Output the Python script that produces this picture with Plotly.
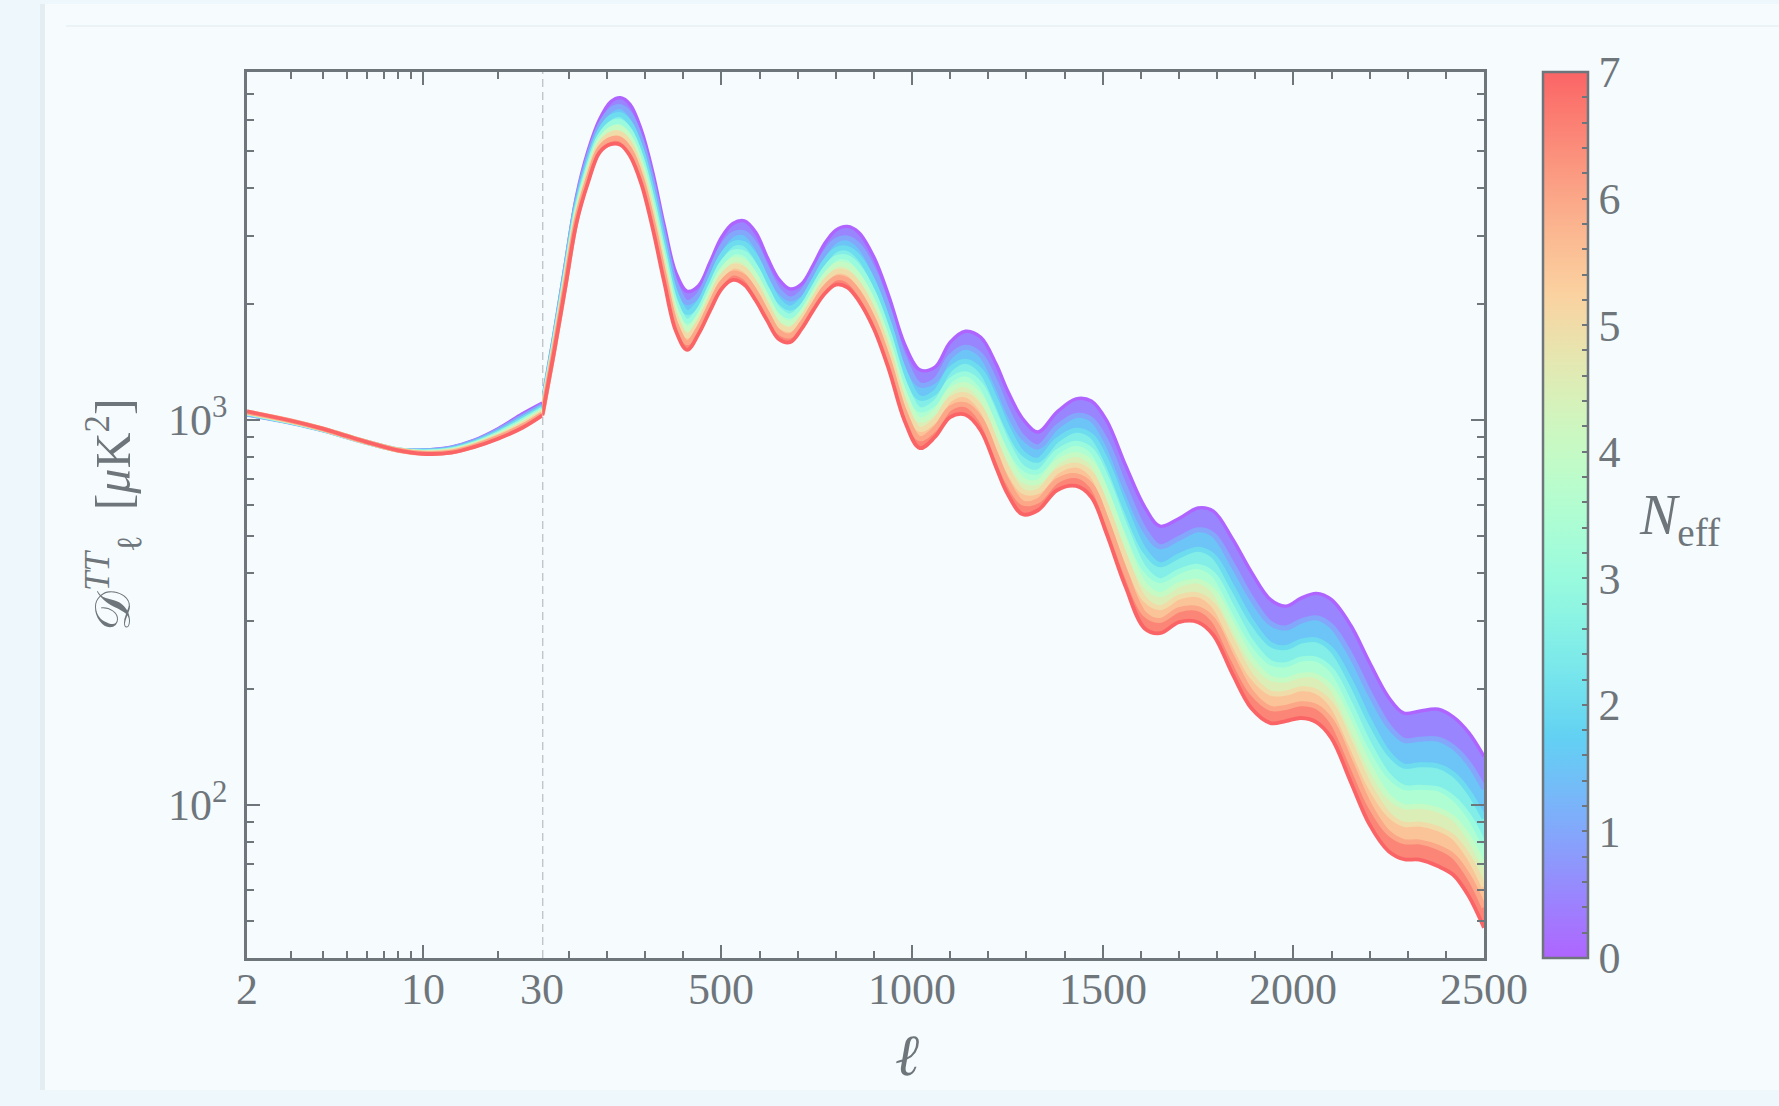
import math
import plotly.graph_objects as go

# ---------------- data ----------------
neff_values = [0, 1, 2, 3, 4, 5, 6, 7]

# low-ell part (log x-axis, ell = 2..30)
ell_low = [2, 3, 4, 5, 6, 8, 10, 13, 16, 20, 25, 30]
dl_n0 = [1030, 982, 940, 902, 873, 836, 834, 849, 884, 948, 1036, 1105]
dl_n1 = [1034, 984, 942, 903, 873, 835, 831, 844, 877, 938, 1020, 1090]
dl_n2 = [1038, 986, 943, 904, 874, 835, 828, 839, 871, 928, 1006, 1077]
dl_n3 = [1041, 988, 944, 905, 874, 834, 825, 835, 866, 920, 994, 1065]
dl_n4 = [1043, 990, 945, 905, 874, 834, 822, 831, 862, 913, 983, 1054]
dl_n5 = [1046, 991, 946, 906, 875, 834, 820, 828, 857, 906, 973, 1045]
dl_n6 = [1048, 993, 947, 906, 875, 833, 818, 824, 853, 900, 963, 1035]
dl_n7 = [1051, 994, 948, 907, 875, 833, 816, 821, 849, 893, 953, 1026]

# high-ell part (linear x-axis, ell = 30..2500)
ell_high = [30, 60, 90, 120, 150, 180, 210, 235, 260, 290,
            320, 350, 380, 410, 440, 470, 500, 530, 560, 590,
            620, 650, 680, 710, 740, 770, 800, 830, 860, 900,
            940, 980, 1020, 1060, 1100, 1140, 1180, 1220, 1250, 1290,
            1330, 1380, 1430, 1470, 1510, 1560, 1610, 1650, 1700, 1750,
            1790, 1840, 1890, 1940, 1980, 2020, 2060, 2100, 2150, 2200,
            2250, 2290, 2330, 2380, 2420, 2460, 2500]
dh_n0 = [1105, 1641, 2513, 3815, 4992, 6018, 6700, 6862, 6595, 5647,
         4385, 3190, 2415, 2155, 2229, 2563, 2975, 3234, 3286, 3065,
         2641, 2320, 2186, 2252, 2513, 2860, 3108, 3177, 3065, 2641,
         2080, 1574, 1348, 1369, 1590, 1697, 1637, 1397, 1191, 1006,
         929, 1047, 1133, 1118, 996, 761, 594, 529, 554, 590,
         579, 491, 402, 341, 328, 344, 354, 341, 293, 234,
         190, 173, 175, 177, 169, 154, 133.5]
dh_n1 = [1090, 1610, 2450, 3701, 4816, 5797, 6384, 6504, 6220, 5311,
         4112, 2991, 2260, 2016, 2110, 2426, 2806, 3033, 3056, 2837,
         2458, 2167, 2058, 2140, 2388, 2702, 2921, 2965, 2837, 2435,
         1914, 1443, 1233, 1265, 1460, 1543, 1473, 1243, 1059, 902,
         850, 958, 1026, 1003, 876, 663, 517, 468, 492, 518,
         503, 421, 344, 296, 288, 300, 306, 291, 245, 195,
         160, 147, 148, 148, 141, 128, 110]
dh_n2 = [1077, 1582, 2395, 3603, 4663, 5606, 6114, 6199, 5902, 5028,
         3883, 2824, 2130, 1900, 2009, 2310, 2663, 2864, 2864, 2647,
         2305, 2039, 1949, 2044, 2281, 2568, 2764, 2787, 2647, 2264,
         1777, 1335, 1139, 1178, 1353, 1418, 1340, 1119, 954, 819,
         785, 885, 939, 909, 780, 586, 457, 420, 443, 461,
         443, 367, 300, 261, 256, 266, 268, 253, 209, 165,
         136, 126, 127, 126, 120, 108, 92.3]
dh_n3 = [1065, 1558, 2348, 3518, 4533, 5443, 5885, 5943, 5636, 4790,
         3690, 2684, 2021, 1803, 1925, 2212, 2542, 2722, 2705, 2490,
         2178, 1932, 1859, 1963, 2191, 2456, 2632, 2639, 2490, 2123,
         1664, 1246, 1062, 1107, 1265, 1316, 1232, 1020, 870, 752,
         732, 825, 869, 834, 705, 525, 410, 382, 404, 416,
         397, 325, 265, 234, 231, 239, 239, 224, 182, 143,
         119, 111, 111, 110, 104, 93.5, 79.2]
dh_n4 = [1054, 1538, 2307, 3446, 4422, 5306, 5693, 5728, 5414, 4594,
         3532, 2569, 1932, 1723, 1854, 2130, 2442, 2606, 2574, 2361,
         2073, 1844, 1783, 1896, 2115, 2362, 2522, 2517, 2361, 2008,
         1571, 1174, 999, 1048, 1194, 1233, 1146, 941, 803, 698,
         689, 776, 812, 774, 646, 478, 373, 351, 373, 381,
         360, 293, 239, 213, 211, 217, 216, 201, 161, 126,
         105, 98.9, 99.1, 97.0, 92.3, 82.3, 69.3]
dh_n5 = [1045, 1519, 2271, 3380, 4323, 5182, 5522, 5538, 5217, 4419,
         3391, 2467, 1853, 1652, 1791, 2058, 2354, 2502, 2458, 2249,
         1981, 1767, 1716, 1836, 2048, 2279, 2425, 2409, 2249, 1907,
         1491, 1112, 944, 997, 1131, 1161, 1072, 874, 746, 652,
         651, 734, 763, 723, 595, 438, 342, 325, 346, 351,
         330, 266, 216, 195, 195, 200, 197, 182, 144, 112,
         94.4, 89.0, 89.1, 86.7, 82.4, 73.2, 61.3]
dh_n6 = [1035, 1501, 2235, 3317, 4226, 5061, 5356, 5354, 5028, 4252,
         3257, 2368, 1777, 1584, 1730, 1988, 2268, 2403, 2348, 2142,
         1893, 1692, 1652, 1777, 1983, 2199, 2333, 2307, 2142, 1812,
         1414, 1052, 893, 948, 1072, 1094, 1003, 812, 692, 608,
         616, 694, 716, 675, 549, 401, 313, 301, 321, 323,
         302, 241, 196, 178, 179, 183, 180, 165, 129, 99.8,
         84.5, 80.2, 80.1, 77.5, 73.6, 65.1, 54.2]
dh_n7 = [1026, 1483, 2199, 3254, 4131, 4943, 5195, 5175, 4845, 4090,
         3127, 2274, 1704, 1519, 1671, 1920, 2186, 2307, 2243, 2039,
         1809, 1621, 1590, 1721, 1920, 2121, 2243, 2208, 2039, 1721,
         1342, 996, 844, 902, 1016, 1030, 938, 754, 643, 568,
         582, 656, 673, 630, 506, 368, 287, 279, 298, 298,
         276, 219, 178, 163, 165, 168, 164, 149, 115, 88.8,
         75.7, 72.2, 72.0, 69.2, 65.7, 57.9, 47.9]

x_low_ticks = [2, 10]
x_low_minor = [3, 4, 5, 6, 7, 8, 9, 20]
x_high_ticks = [30, 500, 1000, 1500, 2000, 2500]
x_high_minor = [100, 200, 300, 400, 600, 700, 800, 900, 1100, 1200, 1300, 1400,
                1600, 1700, 1800, 1900, 2100, 2200, 2300, 2400]
y_ticks = [100, 1000]
y_ticktext = ["10<sup>2</sup>", "10<sup>3</sup>"]
y_minor = [40, 50, 60, 70, 80, 90, 200, 300, 400, 500, 600, 700, 800, 900,
           2000, 3000, 4000, 5000, 6000, 7000, 8000]

curves_low = [dl_n0, dl_n1, dl_n2, dl_n3, dl_n4, dl_n5, dl_n6, dl_n7]
curves_high = [dh_n0, dh_n1, dh_n2, dh_n3, dh_n4, dh_n5, dh_n6, dh_n7]

# ---------------- styling ----------------
W, H = 1779, 1106
ML, MR, MT, MB = 247, 295, 72, 148
L, R, T, B = ML, W - MR, MT, H - MB
PW, PH = R - L, B - T
SPLIT = (542.3 - L) / PW


def px(x):
    return (x - L) / PW


def py(y):
    return (B - y) / PH


FONT = "Liberation Serif, DejaVu Serif, serif"
GREY = "#6e767b"
BGC = (246, 251, 254)
ALPHA = 0.6
NMAX = 7.0
TICKSIZE = 44


def rainbow(t):
    t = min(max(t, 0.0), 1.0)
    r = min(1.0, abs(2 * t - 0.5))
    g = min(1.0, max(0.0, math.sin(math.pi * t)))
    b = min(1.0, max(0.0, math.cos(math.pi * t / 2)))
    return r, g, b


def col(n):
    r, g, b = rainbow(n / NMAX)
    rr = ALPHA * r * 255 + (1 - ALPHA) * BGC[0]
    gg = ALPHA * g * 255 + (1 - ALPHA) * BGC[1]
    bb = ALPHA * b * 255 + (1 - ALPHA) * BGC[2]
    return "rgb(%d,%d,%d)" % (round(rr), round(gg), round(bb))


fig = go.Figure()

parts = [(ell_low, curves_low, "x", "y"), (ell_high, curves_high, "x2", "y2")]

# colour stripes between successive curves
for xs, curves, xa, ya in parts:
    for k, ys in enumerate(curves):
        fig.add_trace(go.Scatter(
            x=xs, y=ys, xaxis=xa, yaxis=ya, mode="lines",
            line=dict(width=0, shape="spline", smoothing=1.0),
            fill="tonexty" if k > 0 else "none",
            fillcolor=col(neff_values[k] - 0.5) if k > 0 else None,
            hoverinfo="skip", showlegend=False))

# curves themselves
for xs, curves, xa, ya in parts:
    for k, ys in enumerate(curves):
        if k == 0:
            w = 3.4
        elif k == 7:
            w = 3.8
        else:
            w = 5.0
        fig.add_trace(go.Scatter(
            x=xs, y=ys, xaxis=xa, yaxis=ya, mode="lines",
            line=dict(width=w, shape="spline", smoothing=1.0,
                      color=col(neff_values[k])),
            hoverinfo="skip", showlegend=False))

# colour bar holder
cstops = [[i / 28.0, col(NMAX * i / 28.0)] for i in range(29)]
cb_ticks = [round(0.2 * i, 1) for i in range(36)]
cb_text = [str(int(v)) if abs(v - round(v)) < 1e-6 else "" for v in cb_ticks]
fig.add_trace(go.Scatter(
    x=[1000, 1000], y=[1000, 1000], xaxis="x2", yaxis="y2", mode="markers",
    marker=dict(size=1, opacity=0, color=[0, 7], cmin=0, cmax=7,
                colorscale=cstops, showscale=True,
                colorbar=dict(
                    x=px(1543), xanchor="left", xpad=0, ypad=0,
                    y=0.5, yanchor="middle", len=1.0, lenmode="fraction",
                    thickness=45, thicknessmode="pixels",
                    outlinewidth=2.5, outlinecolor=GREY,
                    tickmode="array", tickvals=cb_ticks, ticktext=cb_text,
                    ticks="inside", ticklen=7, tickwidth=2, tickcolor=GREY,
                    tickfont=dict(family=FONT, size=TICKSIZE, color=GREY))),
    hoverinfo="skip", showlegend=False))

axis_common = dict(showline=True, linewidth=2.5, linecolor=GREY,
                   ticks="inside", ticklen=13, tickwidth=2, tickcolor=GREY,
                   showgrid=False, zeroline=False,
                   tickfont=dict(family=FONT, size=TICKSIZE, color=GREY))


def minor(vals):
    return dict(ticks="inside", ticklen=7, tickwidth=2, tickcolor=GREY,
                tickmode="array", tickvals=vals, showgrid=False)


fig.update_layout(
    width=W, height=H,
    margin=dict(l=ML, r=MR, t=MT, b=MB, autoexpand=False),
    paper_bgcolor="#edf7fc", plot_bgcolor="rgba(0,0,0,0)",
    showlegend=False,
    font=dict(family=FONT, size=TICKSIZE, color=GREY),
    xaxis=dict(axis_common, type="log", domain=[0, SPLIT], anchor="y",
               range=[math.log10(2), math.log10(30)],
               tickmode="array", tickvals=x_low_ticks,
               showticklabels=False,
               minor=minor(x_low_minor), mirror="allticks"),
    xaxis2=dict(axis_common, type="linear", domain=[SPLIT, 1], anchor="y2",
                range=[30, 2500], tickmode="array", tickvals=x_high_ticks,
                showticklabels=False,
                minor=minor(x_high_minor), mirror="allticks"),
    yaxis=dict(axis_common, type="log", domain=[0, 1], anchor="x",
               range=[math.log10(40), math.log10(8000)],
               tickmode="array", tickvals=y_ticks, ticktext=y_ticktext,
               minor=minor(y_minor), side="left", ticklabelstandoff=8),
    yaxis2=dict(axis_common, type="log", domain=[0, 1], anchor="x2",
                range=[math.log10(40), math.log10(8000)],
                tickmode="array", tickvals=y_ticks, ticktext=y_ticktext,
                minor=minor(y_minor), side="right", showticklabels=False),
)

shapes = [
    dict(type="rect", xref="paper", yref="paper", x0=px(45), x1=px(W + 5),
         y0=py(1090), y1=py(4), fillcolor="#f6fbfe", line=dict(width=0),
         layer="below"),
    dict(type="rect", xref="paper", yref="paper", x0=px(40), x1=px(45),
         y0=py(1090), y1=py(4), fillcolor="#e3edf2", line=dict(width=0),
         layer="below"),
    dict(type="line", xref="paper", yref="paper", x0=px(66), x1=px(W),
         y0=py(26), y1=py(26), line=dict(color="#e8f0f4", width=1.5),
         layer="below"),
    dict(type="line", xref="x2", yref="paper", x0=30, x1=30, y0=0, y1=1,
         line=dict(color="#aab0b3", width=2, dash="8px,5px"), layer="below"),
]
# longer integer ticks on the colour bar
for n in neff_values:
    yy = n / NMAX
    shapes.append(dict(type="line", xref="paper", yref="paper",
                       x0=px(1588 - 14), x1=px(1587), y0=yy, y1=yy,
                       line=dict(color=GREY, width=2)))
fig.update_layout(shapes=shapes)

# x tick labels (placed as text just below the axis)
LABEL_Y = py(990)
for v in x_low_ticks:
    fig.add_annotation(xref="x", yref="paper", x=math.log10(v), y=LABEL_Y,
                       xanchor="center", yanchor="middle", text=str(v),
                       showarrow=False,
                       font=dict(family=FONT, size=TICKSIZE, color=GREY))
for v in x_high_ticks:
    fig.add_annotation(xref="x2", yref="paper", x=v, y=LABEL_Y,
                       xanchor="center", yanchor="middle", text=str(v),
                       showarrow=False,
                       font=dict(family=FONT, size=TICKSIZE, color=GREY))

fig.add_annotation(xref="paper", yref="paper", x=px(907), y=py(1055),
                   xanchor="center", yanchor="middle",
                   text="<i>ℓ</i>", showarrow=False,
                   font=dict(family=FONT, size=58, color=GREY))
fig.add_annotation(xref="paper", yref="paper", x=px(113), y=py(515),
                   xanchor="center", yanchor="middle",
                   text="𝒟<sup><i>TT</i></sup><sub>ℓ</sub>  [<i>μ</i>K<sup>2</sup>]",
                   textangle=-90, showarrow=False,
                   font=dict(family=FONT, size=50, color=GREY))
fig.add_annotation(xref="paper", yref="paper", x=px(1680), y=py(519),
                   xanchor="center", yanchor="middle",
                   text="<i>N</i><sub>eff</sub>", showarrow=False,
                   font=dict(family=FONT, size=56, color=GREY))

fig.write_html("out.html")
